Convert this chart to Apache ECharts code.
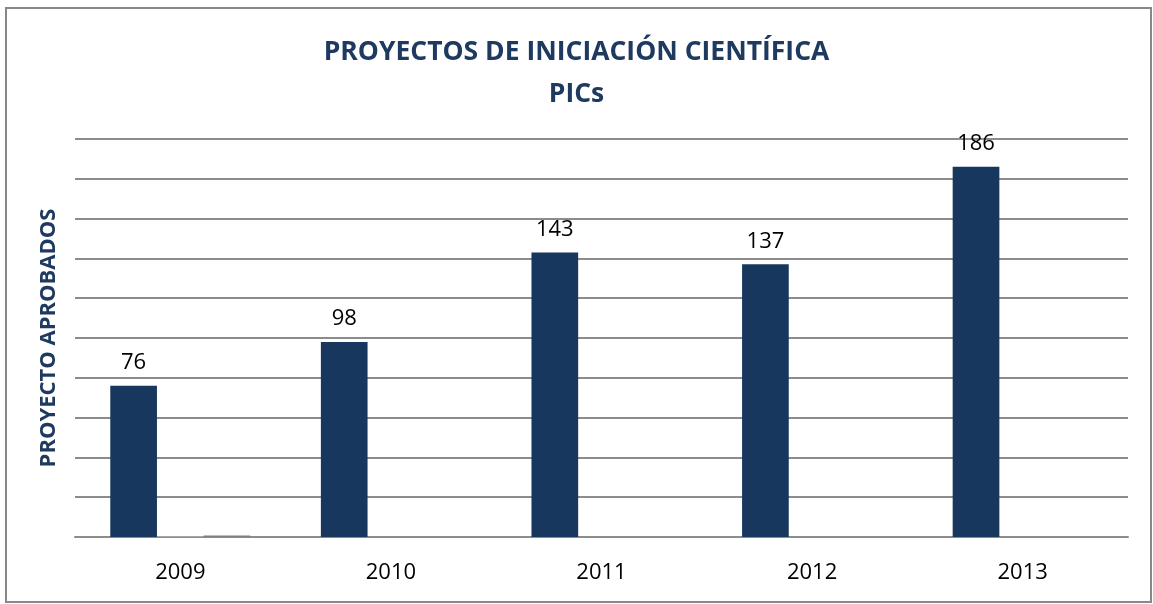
<!DOCTYPE html>
<html>
<head>
<meta charset="utf-8">
<script src="https://cdn.jsdelivr.net/npm/echarts@6/dist/echarts.min.js"></script>
<style>
  html, body { margin: 0; padding: 0; background: #fff; }
  #chart { width: 1153px; height: 604px; }
</style>
</head>
<body>
<div id="chart"></div>
<script>
const years = ['2009', '2010', '2011', '2012', '2013']
const aprobados = [76, 98, 143, 137, 186]
const serie2 = [0.5, 0, 0, 0, 0]
const serie3 = [0.8, 0, 0, 0, 0]

const chart = echarts.init(document.getElementById('chart'))

const option = {
  backgroundColor: '#fff',
  title: {
    text: 'PROYECTOS DE INICIACIÓN CIENTÍFICA\nPICs',
    left: 'center',
    top: 26,
    textStyle: {
      fontFamily: 'Open Sans',
      fontWeight: 'bold',
      fontSize: 26.5,
      lineHeight: 42,
      color: '#1f3a60',
    },
  },
  graphic: [
    {
      type: 'rect',
      shape: { x: 6, y: 8, width: 1145, height: 594 },
      style: { fill: 'none', stroke: '#888', lineWidth: 2 },
      silent: true,
    },
  ],
  grid: { left: 75, right: 25, top: 139, bottom: 67 },
  xAxis: {
    type: 'category',
    data: years,
    axisTick: { show: false },
    axisLine: { lineStyle: { color: '#8c8c8c', width: 2 } },
    axisLabel: {
      fontFamily: 'Open Sans',
      fontSize: 22,
      color: '#000',
      margin: 25,
    },
  },
  yAxis: {
    type: 'value',
    min: 0,
    max: 200,
    interval: 20,
    name: 'PROYECTO APROBADOS',
    nameLocation: 'middle',
    nameRotate: 90,
    nameGap: 15,
    nameTextStyle: {
      fontFamily: 'Open Sans',
      fontWeight: 'bold',
      fontSize: 22,
      color: '#1f3a60',
    },
    axisLabel: { show: false },
    axisTick: { show: false },
    axisLine: { show: false },
    splitLine: { lineStyle: { color: '#8c8c8c', width: 2 } },
  },
  series: [
    {
      name: 'Aprobados',
      type: 'bar',
      data: aprobados,
      barGap: '0%',
      barCategoryGap: '33.5%',
      itemStyle: { color: '#17375e' },
      label: {
        show: true,
        position: 'top',
        distance: 12,
        fontFamily: 'Open Sans',
        fontSize: 22,
        color: '#000',
      },
    },
    {
      name: 'Serie 2',
      type: 'bar',
      data: serie2,
      itemStyle: { color: '#a6a6a6' },
    },
    {
      name: 'Serie 3',
      type: 'bar',
      data: serie3,
      itemStyle: { color: '#7f7f7f' },
    },
  ],
}

chart.setOption(option)
</script>
</body>
</html>
